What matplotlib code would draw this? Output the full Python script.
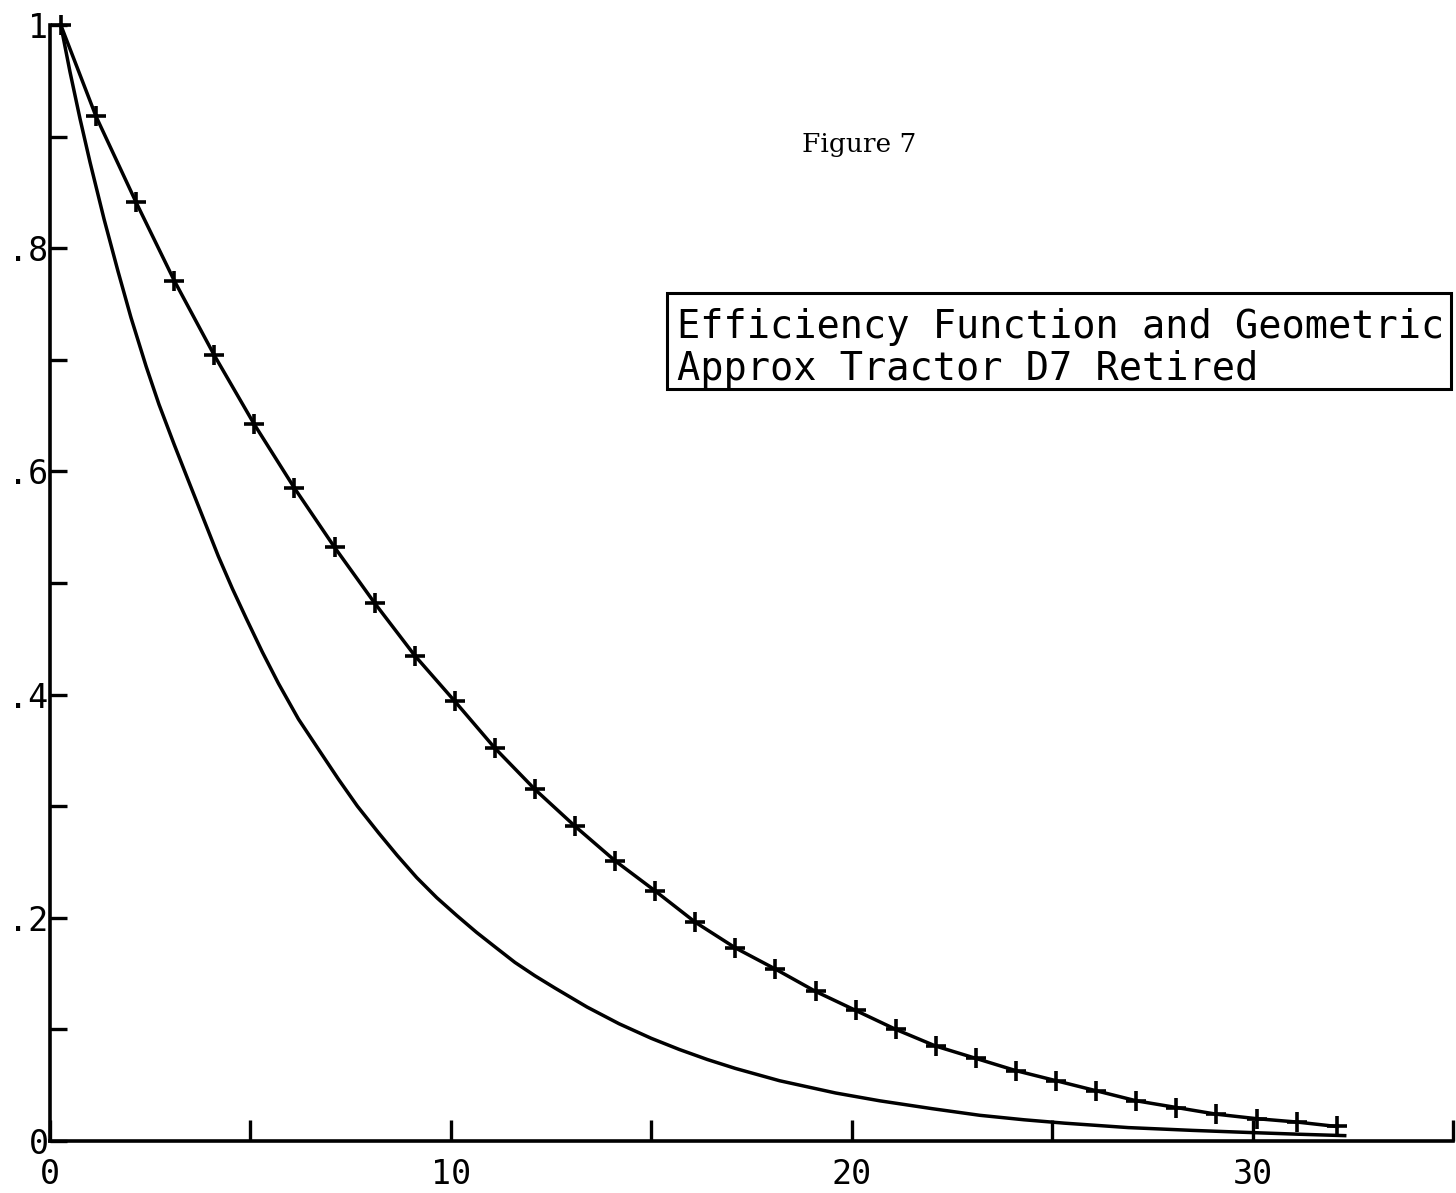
import matplotlib

matplotlib.use("Agg")
import matplotlib.pyplot as plt
from matplotlib.patches import Rectangle

# geometric approximation (curve with + marks)
GEOM_AGE = [0.27, 1.15, 2.15, 3.1, 4.1, 5.1, 6.1, 7.1, 8.1, 9.1, 10.1, 11.1, 12.1,
            13.1, 14.1, 15.1, 16.1, 17.1, 18.1, 19.1, 20.1, 21.1, 22.1, 23.1, 24.1,
            25.1, 26.1, 27.1, 28.1, 29.1, 30.1, 31.1, 32.1]
GEOM_EFF = [1.0, 0.918, 0.841, 0.771, 0.704, 0.642, 0.585, 0.532, 0.482, 0.435,
            0.394, 0.352, 0.315, 0.282, 0.251, 0.224, 0.196, 0.173, 0.154, 0.134,
            0.117, 0.100, 0.085, 0.074, 0.063, 0.054, 0.045, 0.036, 0.030, 0.024,
            0.020, 0.017, 0.013]

# efficiency function (plain curve), traced at closer spacing
FUNC_AGE = [0.27, 0.5, 0.75, 1.0, 1.35, 1.7, 2.02, 2.4, 2.72, 3.1, 3.45, 3.77, 4.2,
            4.55, 4.9, 5.3, 5.7, 6.2, 6.68, 7.2, 7.67, 8.2, 8.66, 9.15, 9.65, 10.15,
            10.64, 11.1, 11.6, 12.1, 12.6, 13.4, 14.2, 15.0, 15.7, 16.4, 17.1, 18.2,
            19.6, 20.7, 22.0, 23.2, 24.3, 25.3, 26.9, 28.5, 30.0, 31.2, 32.3]
FUNC_EFF = [1.0, 0.958, 0.916, 0.877, 0.826, 0.779, 0.738, 0.694, 0.660, 0.624,
            0.592, 0.563, 0.524, 0.495, 0.468, 0.438, 0.410, 0.378, 0.352, 0.324,
            0.300, 0.276, 0.256, 0.236, 0.218, 0.202, 0.187, 0.174, 0.160, 0.148,
            0.137, 0.120, 0.105, 0.092, 0.082, 0.073, 0.065, 0.054, 0.043, 0.036,
            0.029, 0.023, 0.019, 0.016, 0.012, 0.0095, 0.0075, 0.006, 0.0048]

X_TICKS = [0, 5, 10, 15, 20, 25, 30, 35]
X_TICK_LABELS = ["0", "", "10", "", "20", "", "30", ""]
Y_TICKS = [0.0, 0.1, 0.2, 0.3, 0.4, 0.5, 0.6, 0.7, 0.8, 0.9, 1.0]
Y_TICK_LABELS = ["0", "", ".2", "", ".4", "", ".6", "", ".8", "", "1"]

TITLE_LINES = ["Efficiency Function and Geometric", "Approx Tractor D7 Retired"]
FIGURE_LABEL = "Figure 7"

MONO = "DejaVu Sans Mono"


def main() -> None:
    fig = plt.figure(figsize=(14.56, 11.93), dpi=100)
    ax = fig.add_axes([0.0343, 0.0436, 0.9636, 0.9355])

    ax.plot(FUNC_AGE, FUNC_EFF, color="black", linewidth=2.5, clip_on=False)
    ax.plot(GEOM_AGE, GEOM_EFF, color="black", linewidth=2.5, marker="+",
            markersize=15, markeredgewidth=2.6, clip_on=False)

    ax.set_xlim(0, 35)
    ax.set_ylim(0, 1.0)
    for side in ("top", "right"):
        ax.spines[side].set_visible(False)
    for side in ("left", "bottom"):
        ax.spines[side].set_linewidth(2.6)

    ax.set_xticks(X_TICKS)
    ax.set_xticklabels(X_TICK_LABELS, fontfamily=MONO, fontsize=24)
    ax.set_yticks(Y_TICKS)
    ax.set_yticklabels(Y_TICK_LABELS, fontfamily=MONO, fontsize=24)
    ax.tick_params(axis="x", direction="in", length=15, width=2.4, pad=12)
    ax.tick_params(axis="y", direction="in", length=12, width=2.4, pad=1)

    ax.text(20.2, 0.893, FIGURE_LABEL, fontfamily="DejaVu Serif", fontsize=19,
            ha="center", va="center")
    ax.add_patch(Rectangle((15.4, 0.674), 35 - 15.4 - 0.05, 0.086, fill=False,
                           edgecolor="black", linewidth=2.2, clip_on=False))
    ax.text(15.65, 0.729, TITLE_LINES[0], fontfamily=MONO, fontsize=27.8,
            ha="left", va="center")
    ax.text(15.65, 0.692, TITLE_LINES[1], fontfamily=MONO, fontsize=27.8,
            ha="left", va="center")

    fig.savefig("out.png", dpi=100)
    plt.close(fig)


if __name__ == "__main__":
    main()
